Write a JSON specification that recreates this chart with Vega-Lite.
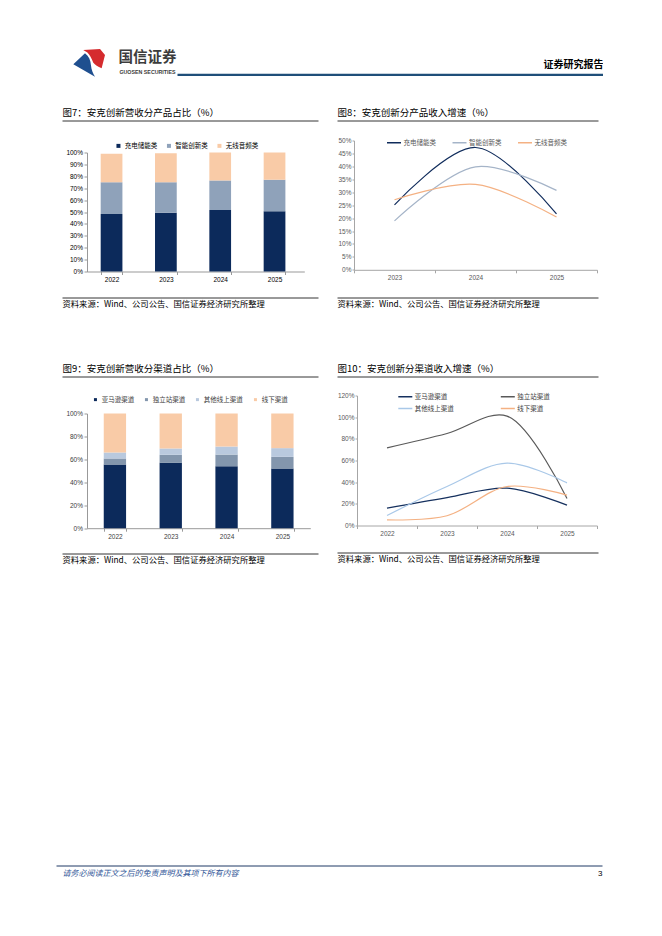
{
  "$schema": "https://vega.github.io/schema/vega-lite/v6.json",
  "background": "white",
  "padding": {"left": 56, "top": 48.5, "right": 0, "bottom": 0},
  "columns": 1,
  "align": "none",
  "spacing": 0,
  "resolve": {"scale": {"color": "independent"}, "legend": {"color": "independent"}},
  "config": {
    "view": {"stroke": null},
    "font": "Liberation Sans",
    "axis": {"labelFont": "Liberation Sans", "titleFont": "Noto Sans CJK SC"},
    "legend": {"labelFont": "Noto Sans CJK SC", "padding": 0}
  },
  "concat": [
    {
      "concat": [
        {
          "width": 66,
          "height": 30,
          "data": {"values": [{}]},
          "layer": [
            {"mark": {"type": "point", "shape": "M -0.98 0.05 L -0.25 -0.64 C 0 -0.45 0.1 -0.2 0.12 0.1 C 0.15 0.4 0.25 0.65 0.375 0.83 Z", "filled": true, "color": "#1f4f8f", "opacity": 1, "size": 1024}},
            {"mark": {"type": "point", "shape": "M -0.36 -0.84 L 0.69 -0.91 L 1 -0.53 L 0.79 0.3 C 0.55 0.2 0.38 0.08 0.27 -0.05 C 0.15 -0.3 0.05 -0.55 -0.1 -0.68 Z", "filled": true, "color": "#d52b2e", "opacity": 1, "size": 1024}},
            {"mark": {"type": "text", "text": "国信证券", "dx": 58.5, "dy": -5.2, "font": "Noto Sans CJK SC", "fontSize": 14.5, "fontWeight": "bold", "color": "#3c3c3c"}},
            {"mark": {"type": "text", "text": "GUOSEN SECURITIES", "dx": 58.5, "dy": 8.2, "font": "Liberation Sans", "fontSize": 5.3, "fontWeight": "bold", "color": "#3c3c3c"}}
          ]
        },
        {
          "width": 426,
          "height": 25.8,
          "data": {"values": [{"v": 0}]},
          "mark": {"type": "point", "size": 0, "opacity": 0},
          "encoding": {
            "x": {
              "field": "v", "type": "quantitative", "scale": {"domain": [0, 1]},
              "axis": {"grid": false, "ticks": false, "labels": false, "domainColor": "#1f4e79", "domainWidth": 2.2,
                "title": "证券研究报告", "titleAnchor": "end", "titleAlign": "right", "titleY": -10.3, "titleBaseline": "middle",
                "titleFont": "Noto Sans CJK SC", "titleFontSize": 10, "titleFontWeight": "bold", "titleColor": "#000",
                "minExtent": 32, "maxExtent": 32}
            }
          }
        }
      ],
      "align": "none",
      "bounds": "flush",
      "spacing": 55
    },
    {
      "resolve": {"scale": {"color": "independent"}, "legend": {"color": "independent"}},
      "align": "none",
      "spacing": 18,
      "concat": [
        {
          "columns": 1,
          "align": "none",
          "spacing": 0,
          "resolve": {"scale": {"color": "independent"}, "legend": {"color": "independent"}},
          "concat": [
            {
              "align": "none",
              "spacing": 5,
              "concat": [
                {"width": 1, "height": 1, "data": {"values": []}, "mark": "point"},
                {
                  "width": 256,
                  "height": 1,
                  "data": {"values": [{"v": 0}]},
                  "mark": {"type": "point", "size": 0, "opacity": 0},
                  "encoding": {
                    "x": {"field": "v", "type": "quantitative", "scale": {"domain": [0, 1]},
                      "axis": {"grid": false, "ticks": false, "labels": false, "domainColor": "#000", "domainWidth": 0.8,
                        "title": "图7：安克创新营收分产品占比（%）", "titleX": 0, "titleY": -8.5, "titleAlign": "left", "titleBaseline": "middle",
                        "titleFontSize": 9.5, "titleFontWeight": "normal", "titleColor": "#000", "minExtent": 21.15, "maxExtent": 21.15}}
                  }
                }
              ]
            },
            {
              "align": "none",
              "spacing": 0,
              "concat": [
                {"width": 1, "height": 1, "data": {"values": []}, "mark": "point"},
                {
                  "width": 217.3,
                  "height": 119,
                  "data": {"values": [
                    {"year": "2022", "cat": "充电储能类", "idx": 0, "share": 0.483},
                    {"year": "2022", "cat": "智能创新类", "idx": 1, "share": 0.266},
                    {"year": "2022", "cat": "无线音频类", "idx": 2, "share": 0.24},
                    {"year": "2023", "cat": "充电储能类", "idx": 0, "share": 0.494},
                    {"year": "2023", "cat": "智能创新类", "idx": 1, "share": 0.257},
                    {"year": "2023", "cat": "无线音频类", "idx": 2, "share": 0.243},
                    {"year": "2024", "cat": "充电储能类", "idx": 0, "share": 0.517},
                    {"year": "2024", "cat": "智能创新类", "idx": 1, "share": 0.248},
                    {"year": "2024", "cat": "无线音频类", "idx": 2, "share": 0.235},
                    {"year": "2025", "cat": "充电储能类", "idx": 0, "share": 0.506},
                    {"year": "2025", "cat": "智能创新类", "idx": 1, "share": 0.265},
                    {"year": "2025", "cat": "无线音频类", "idx": 2, "share": 0.229}
                  ]},
                  "mark": {"type": "bar"},
                  "encoding": {
                    "x": {"field": "year", "type": "ordinal", "scale": {"paddingInner": 0.6, "paddingOuter": 0.3, "align": 0.42},
                      "axis": {"title": null, "labelAngle": 0, "tickBand": "extent", "domainColor": "#999", "tickColor": "#999", "tickSize": 3,
                        "labelFontSize": 6.5, "labelColor": "#000", "labelPadding": 2, "minExtent": 24.3, "maxExtent": 24.3}},
                    "y": {"field": "share", "type": "quantitative", "stack": "zero", "scale": {"domain": [0, 1]},
                      "axis": {"title": null, "format": ".0%", "values": [0, 0.1, 0.2, 0.3, 0.4, 0.5, 0.6, 0.7, 0.8, 0.9, 1], "grid": false,
                        "domainColor": "#999", "tickColor": "#999", "tickSize": 3, "labelFontSize": 6.5, "labelColor": "#000", "labelPadding": 1.5,
                        "minExtent": 30, "maxExtent": 30}},
                    "order": {"field": "idx", "type": "quantitative", "sort": "ascending"},
                    "color": {"field": "cat", "type": "nominal", "sort": ["充电储能类", "智能创新类", "无线音频类"],
                      "scale": {"domain": ["充电储能类", "智能创新类", "无线音频类"], "range": ["#0c2a5b", "#8fa2ba", "#f9cba7"]},
                      "legend": {"orient": "none", "legendX": 59.2, "legendY": -10, "direction": "horizontal", "title": null,
                        "symbolType": "square", "symbolSize": 16, "labelFontSize": 6.5, "labelColor": "#000", "labelOffset": 3, "columnPadding": 8.5}}
                  }
                }
              ]
            },
            {
              "align": "none",
              "spacing": 5,
              "concat": [
                {"width": 1, "height": 1, "data": {"values": []}, "mark": "point"},
                {
                  "width": 256,
                  "height": 1,
                  "data": {"values": [{"v": 0}]},
                  "mark": {"type": "point", "size": 0, "opacity": 0},
                  "encoding": {
                    "x": {"field": "v", "type": "quantitative", "scale": {"domain": [0, 1]},
                      "axis": {"grid": false, "ticks": false, "labels": false, "domainColor": "#000", "domainWidth": 0.8,
                        "title": "资料来源：Wind、公司公告、国信证券经济研究所整理", "titleX": 0, "titleY": 7, "titleAlign": "left", "titleBaseline": "middle",
                        "titleFontSize": 8.3, "titleFontWeight": "normal", "titleColor": "#000", "minExtent": 64.55, "maxExtent": 64.55}}
                  }
                }
              ]
            }
          ]
        },
        {
          "columns": 1,
          "align": "none",
          "spacing": 0,
          "resolve": {"scale": {"color": "independent"}, "legend": {"color": "independent"}},
          "concat": [
            {
              "align": "none",
              "spacing": 0,
              "concat": [
                {"width": 1, "height": 1, "data": {"values": []}, "mark": "point"},
                {
                  "width": 261,
                  "height": 1,
                  "data": {"values": [{"v": 0}]},
                  "mark": {"type": "point", "size": 0, "opacity": 0},
                  "encoding": {
                    "x": {"field": "v", "type": "quantitative", "scale": {"domain": [0, 1]},
                      "axis": {"grid": false, "ticks": false, "labels": false, "domainColor": "#000", "domainWidth": 0.8,
                        "title": "图8：安克创新分产品收入增速（%）", "titleX": 0, "titleY": -8.5, "titleAlign": "left", "titleBaseline": "middle",
                        "titleFontSize": 9.5, "titleFontWeight": "normal", "titleColor": "#000", "minExtent": 13.15, "maxExtent": 13.15}}
                  }
                }
              ]
            },
            {
              "align": "none",
              "spacing": 0,
              "concat": [
                {"width": 1, "height": 1, "data": {"values": []}, "mark": "point"},
                {
                  "width": 243,
                  "height": 129.3,
                  "data": {"values": [
                    {"year": "2023", "cat": "充电储能类", "growth": 0.251},
                    {"year": "2024", "cat": "充电储能类", "growth": 0.473},
                    {"year": "2025", "cat": "充电储能类", "growth": 0.216},
                    {"year": "2023", "cat": "智能创新类", "growth": 0.189},
                    {"year": "2024", "cat": "智能创新类", "growth": 0.398},
                    {"year": "2025", "cat": "智能创新类", "growth": 0.307},
                    {"year": "2023", "cat": "无线音频类", "growth": 0.271},
                    {"year": "2024", "cat": "无线音频类", "growth": 0.33},
                    {"year": "2025", "cat": "无线音频类", "growth": 0.204}
                  ]},
                  "mark": {"type": "line", "interpolate": "catmull-rom", "strokeWidth": 1.2},
                  "encoding": {
                    "x": {"field": "year", "type": "ordinal", "scale": {"type": "band", "paddingInner": 0, "paddingOuter": 0},
                      "axis": {"title": null, "labelAngle": 0, "tickBand": "extent", "domainColor": "#a6a6a6", "tickColor": "#a6a6a6", "tickSize": 3,
                        "labelFontSize": 6.5, "labelColor": "#595959", "labelPadding": 1.75, "minExtent": 26, "maxExtent": 26}},
                    "y": {"field": "growth", "type": "quantitative", "scale": {"domain": [0, 0.5]},
                      "axis": {"title": null, "format": ".0%", "values": [0, 0.05, 0.1, 0.15, 0.2, 0.25, 0.3, 0.35, 0.4, 0.45, 0.5], "grid": false,
                        "domainColor": "#a6a6a6", "tickColor": "#a6a6a6", "tickSize": 2, "labelFontSize": 6.5, "labelColor": "#595959", "labelPadding": 1,
                        "minExtent": 17, "maxExtent": 17}},
                    "strokeWidth": {"field": "cat", "type": "nominal", "scale": {"domain": ["充电储能类", "智能创新类", "无线音频类"], "range": [1.6, 1.1, 1.1]}, "legend": null},
                    "color": {"field": "cat", "type": "nominal", "sort": ["充电储能类", "智能创新类", "无线音频类"],
                      "scale": {"domain": ["充电储能类", "智能创新类", "无线音频类"], "range": ["#0f2b5b", "#a5b4c8", "#f4b183"]},
                      "legend": {"orient": "none", "legendX": 50, "legendY": -6, "direction": "horizontal", "title": null,
                        "symbolType": "stroke", "symbolSize": 196, "symbolStrokeWidth": 1.5, "labelFontSize": 6.5, "labelColor": "#595959",
                        "labelOffset": 1.5, "columnPadding": 13.5}}
                  }
                }
              ]
            },
            {
              "align": "none",
              "spacing": 0,
              "concat": [
                {"width": 1, "height": 1, "data": {"values": []}, "mark": "point"},
                {
                  "width": 261,
                  "height": 1,
                  "data": {"values": [{"v": 0}]},
                  "mark": {"type": "point", "size": 0, "opacity": 0},
                  "encoding": {
                    "x": {"field": "v", "type": "quantitative", "scale": {"domain": [0, 1]},
                      "axis": {"grid": false, "ticks": false, "labels": false, "domainColor": "#000", "domainWidth": 0.8,
                        "title": "资料来源：Wind、公司公告、国信证券经济研究所整理", "titleX": 0, "titleY": 7, "titleAlign": "left", "titleBaseline": "middle",
                        "titleFontSize": 8.3, "titleFontWeight": "normal", "titleColor": "#000", "minExtent": 64.55, "maxExtent": 64.55}}
                  }
                }
              ]
            }
          ]
        }
      ]
    },
    {
      "resolve": {"scale": {"color": "independent"}, "legend": {"color": "independent"}},
      "align": "none",
      "spacing": 18,
      "concat": [
        {
          "columns": 1,
          "align": "none",
          "spacing": 0,
          "resolve": {"scale": {"color": "independent"}, "legend": {"color": "independent"}},
          "concat": [
            {
              "align": "none",
              "spacing": 5,
              "concat": [
                {"width": 1, "height": 1, "data": {"values": []}, "mark": "point"},
                {
                  "width": 256,
                  "height": 1,
                  "data": {"values": [{"v": 0}]},
                  "mark": {"type": "point", "size": 0, "opacity": 0},
                  "encoding": {
                    "x": {"field": "v", "type": "quantitative", "scale": {"domain": [0, 1]},
                      "axis": {"grid": false, "ticks": false, "labels": false, "domainColor": "#000", "domainWidth": 0.8,
                        "title": "图9：安克创新营收分渠道占比（%）", "titleX": 0, "titleY": -8.5, "titleAlign": "left", "titleBaseline": "middle",
                        "titleFontSize": 9.5, "titleFontWeight": "normal", "titleColor": "#000", "minExtent": 18.25, "maxExtent": 18.25}}
                  }
                }
              ]
            },
            {
              "align": "none",
              "spacing": 0,
              "concat": [
                {"width": 1, "height": 1, "data": {"values": []}, "mark": "point"},
                {
                  "width": 223.3,
                  "height": 114.7,
                  "data": {"values": [
                    {"year": "2022", "channel": "亚马逊渠道", "idx": 0, "share": 0.555},
                    {"year": "2022", "channel": "独立站渠道", "idx": 1, "share": 0.053},
                    {"year": "2022", "channel": "其他线上渠道", "idx": 2, "share": 0.052},
                    {"year": "2022", "channel": "线下渠道", "idx": 3, "share": 0.34},
                    {"year": "2023", "channel": "亚马逊渠道", "idx": 0, "share": 0.57},
                    {"year": "2023", "channel": "独立站渠道", "idx": 1, "share": 0.07},
                    {"year": "2023", "channel": "其他线上渠道", "idx": 2, "share": 0.055},
                    {"year": "2023", "channel": "线下渠道", "idx": 3, "share": 0.305},
                    {"year": "2024", "channel": "亚马逊渠道", "idx": 0, "share": 0.54},
                    {"year": "2024", "channel": "独立站渠道", "idx": 1, "share": 0.102},
                    {"year": "2024", "channel": "其他线上渠道", "idx": 2, "share": 0.07},
                    {"year": "2024", "channel": "线下渠道", "idx": 3, "share": 0.288},
                    {"year": "2025", "channel": "亚马逊渠道", "idx": 0, "share": 0.52},
                    {"year": "2025", "channel": "独立站渠道", "idx": 1, "share": 0.102},
                    {"year": "2025", "channel": "其他线上渠道", "idx": 2, "share": 0.076},
                    {"year": "2025", "channel": "线下渠道", "idx": 3, "share": 0.302}
                  ]},
                  "mark": {"type": "bar"},
                  "encoding": {
                    "x": {"field": "year", "type": "ordinal", "scale": {"paddingInner": 0.6, "paddingOuter": 0.3},
                      "axis": {"title": null, "labelAngle": 0, "tickBand": "extent", "domainColor": "#999", "tickColor": "#999", "tickSize": 3,
                        "labelFontSize": 6.5, "labelColor": "#404040", "labelPadding": 2.5, "minExtent": 24, "maxExtent": 24}},
                    "y": {"field": "share", "type": "quantitative", "stack": "zero", "scale": {"domain": [0, 1]},
                      "axis": {"title": null, "format": ".0%", "values": [0, 0.2, 0.4, 0.6, 0.8, 1], "grid": false,
                        "domainColor": "#999", "tickColor": "#999", "tickSize": 3, "labelFontSize": 6.5, "labelColor": "#404040", "labelPadding": 1.5,
                        "minExtent": 30, "maxExtent": 30}},
                    "order": {"field": "idx", "type": "quantitative", "sort": "ascending"},
                    "color": {"field": "channel", "type": "nominal", "sort": ["亚马逊渠道", "独立站渠道", "其他线上渠道", "线下渠道"],
                      "scale": {"domain": ["亚马逊渠道", "独立站渠道", "其他线上渠道", "线下渠道"], "range": ["#0c2a5b", "#8396ad", "#b9c9de", "#f9cba7"]},
                      "legend": {"orient": "none", "legendX": 36.2, "legendY": -17.25, "direction": "horizontal", "title": null,
                        "symbolType": "square", "symbolSize": 9, "labelFontSize": 6.5, "labelColor": "#404040", "labelOffset": 3, "columnPadding": 9}}
                  }
                }
              ]
            },
            {
              "align": "none",
              "spacing": 5,
              "concat": [
                {"width": 1, "height": 1, "data": {"values": []}, "mark": "point"},
                {
                  "width": 256,
                  "height": 1,
                  "data": {"values": [{"v": 0}]},
                  "mark": {"type": "point", "size": 0, "opacity": 0},
                  "encoding": {
                    "x": {"field": "v", "type": "quantitative", "scale": {"domain": [0, 1]},
                      "axis": {"grid": false, "ticks": false, "labels": false, "domainColor": "#000", "domainWidth": 0.8,
                        "title": "资料来源：Wind、公司公告、国信证券经济研究所整理", "titleX": 0, "titleY": 7, "titleAlign": "left", "titleBaseline": "middle",
                        "titleFontSize": 8.3, "titleFontWeight": "normal", "titleColor": "#000", "minExtent": 311, "maxExtent": 311}}
                  }
                }
              ]
            }
          ]
        },
        {
          "columns": 1,
          "align": "none",
          "spacing": 0,
          "resolve": {"scale": {"color": "independent"}, "legend": {"color": "independent"}},
          "concat": [
            {
              "align": "none",
              "spacing": 0,
              "concat": [
                {"width": 1, "height": 1, "data": {"values": []}, "mark": "point"},
                {
                  "width": 261,
                  "height": 1,
                  "data": {"values": [{"v": 0}]},
                  "mark": {"type": "point", "size": 0, "opacity": 0},
                  "encoding": {
                    "x": {"field": "v", "type": "quantitative", "scale": {"domain": [0, 1]},
                      "axis": {"grid": false, "ticks": false, "labels": false, "domainColor": "#000", "domainWidth": 0.8,
                        "title": "图10：安克创新分渠道收入增速（%）", "titleX": 0, "titleY": -8.5, "titleAlign": "left", "titleBaseline": "middle",
                        "titleFontSize": 9.5, "titleFontWeight": "normal", "titleColor": "#000", "minExtent": 11.9, "maxExtent": 11.9}}
                  }
                }
              ]
            },
            {
              "align": "none",
              "spacing": 0,
              "concat": [
                {"width": 1, "height": 1, "data": {"values": []}, "mark": "point"},
                {
                  "width": 240,
                  "height": 130,
                  "data": {"values": [
                    {"year": "2022", "channel": "亚马逊渠道", "growth": 0.16},
                    {"year": "2023", "channel": "亚马逊渠道", "growth": 0.258},
                    {"year": "2024", "channel": "亚马逊渠道", "growth": 0.345},
                    {"year": "2025", "channel": "亚马逊渠道", "growth": 0.188},
                    {"year": "2022", "channel": "独立站渠道", "growth": 0.717},
                    {"year": "2023", "channel": "独立站渠道", "growth": 0.849},
                    {"year": "2024", "channel": "独立站渠道", "growth": 1.01},
                    {"year": "2025", "channel": "独立站渠道", "growth": 0.25},
                    {"year": "2022", "channel": "其他线上渠道", "growth": 0.092},
                    {"year": "2023", "channel": "其他线上渠道", "growth": 0.36},
                    {"year": "2024", "channel": "其他线上渠道", "growth": 0.575},
                    {"year": "2025", "channel": "其他线上渠道", "growth": 0.394},
                    {"year": "2022", "channel": "线下渠道", "growth": 0.052},
                    {"year": "2023", "channel": "线下渠道", "growth": 0.09},
                    {"year": "2024", "channel": "线下渠道", "growth": 0.36},
                    {"year": "2025", "channel": "线下渠道", "growth": 0.28}
                  ]},
                  "mark": {"type": "line", "interpolate": "catmull-rom", "strokeWidth": 1.2},
                  "encoding": {
                    "x": {"field": "year", "type": "ordinal", "scale": {"type": "band", "paddingInner": 0, "paddingOuter": 0},
                      "axis": {"title": null, "labelAngle": 0, "tickBand": "extent", "domainColor": "#a6a6a6", "tickColor": "#a6a6a6", "tickSize": 3,
                        "labelFontSize": 6.5, "labelColor": "#595959", "labelPadding": 2, "minExtent": 25.3, "maxExtent": 25.3}},
                    "y": {"field": "growth", "type": "quantitative", "scale": {"domain": [0, 1.2]},
                      "axis": {"title": null, "format": ".0%", "values": [0, 0.2, 0.4, 0.6, 0.8, 1, 1.2], "grid": false,
                        "domainColor": "#a6a6a6", "tickColor": "#a6a6a6", "tickSize": 2, "labelFontSize": 6.5, "labelColor": "#595959", "labelPadding": 1,
                        "minExtent": 20, "maxExtent": 20}},
                    "color": {"field": "channel", "type": "nominal", "sort": ["亚马逊渠道", "独立站渠道", "其他线上渠道", "线下渠道"],
                      "scale": {"domain": ["亚马逊渠道", "独立站渠道", "其他线上渠道", "线下渠道"], "range": ["#15305e", "#595959", "#a9c8e8", "#f4b183"]},
                      "legend": {"orient": "none", "legendX": 61.3, "legendY": -7, "direction": "horizontal", "columns": 2, "title": null,
                        "symbolType": "stroke", "symbolSize": 196, "symbolStrokeWidth": 1.5, "labelFontSize": 6.5, "labelColor": "#404040",
                        "labelOffset": 1.5, "columnPadding": 43.5, "rowPadding": -6}}
                  }
                }
              ]
            },
            {
              "align": "none",
              "spacing": 0,
              "concat": [
                {"width": 1, "height": 1, "data": {"values": []}, "mark": "point"},
                {
                  "width": 261,
                  "height": 1,
                  "data": {"values": [{"v": 0}]},
                  "mark": {"type": "point", "size": 0, "opacity": 0},
                  "encoding": {
                    "x": {"field": "v", "type": "quantitative", "scale": {"domain": [0, 1]},
                      "axis": {"grid": false, "ticks": false, "labels": false, "domainColor": "#000", "domainWidth": 0.8,
                        "title": "资料来源：Wind、公司公告、国信证券经济研究所整理", "titleX": 0, "titleY": 7, "titleAlign": "left", "titleBaseline": "middle",
                        "titleFontSize": 8.3, "titleFontWeight": "normal", "titleColor": "#000", "minExtent": 311, "maxExtent": 311}}
                  }
                }
              ]
            }
          ]
        }
      ]
    },
    {
      "width": 546,
      "height": 1,
      "data": {"values": [{"page": 3}]},
      "mark": {"type": "point", "size": 0, "opacity": 0},
      "encoding": {
        "x": {"field": "page", "type": "quantitative", "scale": {"domain": [0, 3]},
          "axis": {"values": [3], "grid": false, "ticks": false, "domainColor": "#1f3864", "domainWidth": 1,
            "labelAlign": "right", "labelFlush": false, "labelFontSize": 8, "labelColor": "#000", "labelPadding": 4,
            "title": "请务必阅读正文之后的免责声明及其项下所有内容", "titleX": 6, "titleY": 8, "titleAlign": "left", "titleBaseline": "middle",
            "titleFontSize": 8, "titleFontStyle": "italic", "titleFontWeight": "normal", "titleColor": "#2f5597"}}
      }
    }
  ]
}
